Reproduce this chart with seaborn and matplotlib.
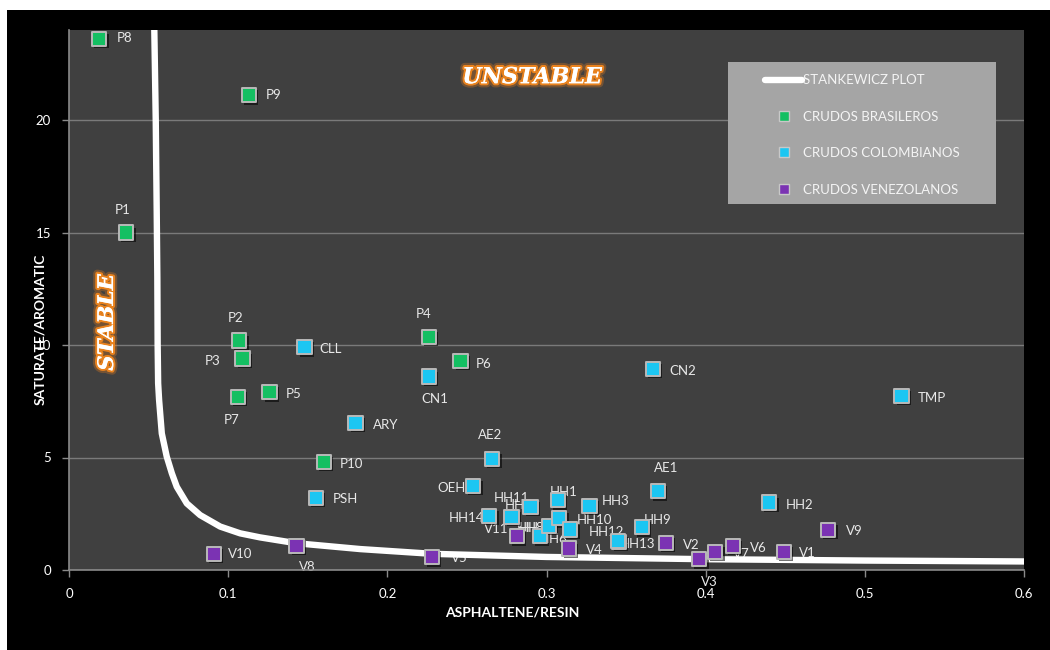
import matplotlib
matplotlib.use("Agg")
import matplotlib.pyplot as plt
import matplotlib.patheffects as pe
from matplotlib.lines import Line2D
from matplotlib.patches import Rectangle
import pandas as pd
import seaborn as sns

# ---- Brazilian crudes (asphaltene/resin, saturate/aromatic)
br_names = ["P1", "P2", "P3", "P4", "P5", "P6", "P7", "P8", "P9", "P10"]
br_ar = [0.036, 0.107, 0.109, 0.226, 0.126, 0.246, 0.106, 0.019, 0.113, 0.160]
br_sa = [15.0, 10.2, 9.4, 10.35, 7.9, 9.3, 7.7, 23.6, 21.1, 4.8]

# ---- Colombian crudes
co_names = ["CLL", "ARY", "PSH", "CN1", "CN2", "TMP", "AE2", "AE1", "OEH",
            "HH1", "HH2", "HH3", "HH5", "HH6", "HH7", "HH8", "HH9", "HH10",
            "HH11", "HH12", "HH13", "HH14"]
co_ar = [0.148, 0.180, 0.155, 0.226, 0.367, 0.523, 0.266, 0.370, 0.254,
         0.307, 0.440, 0.327, 0.290, 0.296, 0.3015, 0.308, 0.360, 0.315,
         0.278, 0.3455, 0.345, 0.264]
co_sa = [9.9, 6.55, 3.2, 8.6, 8.95, 7.75, 4.95, 3.5, 3.75,
         3.1, 3.0, 2.85, 2.8, 1.5, 1.95, 2.3, 1.9, 1.8,
         2.35, 1.25, 1.3, 2.4]

# ---- Venezuelan crudes
ve_names = ["V1", "V2", "V3", "V4", "V5", "V6", "V7", "V8", "V9", "V10", "V11"]
ve_ar = [0.449, 0.375, 0.396, 0.314, 0.228, 0.417, 0.406, 0.143, 0.477, 0.091, 0.2815]
ve_sa = [0.81, 1.21, 0.48, 0.96, 0.57, 1.07, 0.81, 1.08, 1.78, 0.71, 1.5]

# ---- Stankewicz stability boundary
stank_ar = [0.0536, 0.0545, 0.0551, 0.0555, 0.0557, 0.0560, 0.0566, 0.0583,
            0.0614, 0.0646, 0.0677, 0.074, 0.0824, 0.095, 0.1075, 0.120,
            0.1428, 0.183, 0.228, 0.30, 0.40, 0.50, 0.60]
stank_sa = [24.0, 20.0, 16.0, 13.0, 10.0, 8.3, 7.56, 6.07,
            5.04, 4.3, 3.7, 2.96, 2.44, 1.93, 1.63, 1.45,
            1.19, 0.93, 0.72, 0.58, 0.48, 0.42, 0.38]

x_ticks = [0, 0.1, 0.2, 0.3, 0.4, 0.5, 0.6]
x_tick_labels = ["0", "0.1", "0.2", "0.3", "0.4", "0.5", "0.6"]
y_ticks = [0, 5, 10, 15, 20]

group_br = "CRUDOS BRASILEROS"
group_co = "CRUDOS COLOMBIANOS"
group_ve = "CRUDOS VENEZOLANOS"
curve_label = "STANKEWICZ PLOT"

palette = {group_br: "#14bf62", group_co: "#1cc6f2", group_ve: "#7b33b3"}

# label offsets (points) relative to each marker
label_offsets = {
    "P1": (-3, 16.5), "P2": (-3, 16.5), "P3": (-21.5, -2), "P4": (-4, 16.5),
    "P5": (17.5, -1), "P6": (16.5, -2), "P7": (-4.5, -17), "P8": (18, 1),
    "P9": (18, 0), "P10": (20, -1.5),
    "CLL": (18.5, -1.5), "ARY": (21.5, -2), "PSH": (21.5, -1), "CN1": (4.5, -16.5),
    "CN2": (21.5, -2), "TMP": (22, -1.5), "AE2": (-2, 17), "AE1": (6, 16.5),
    "OEH": (-16, -2), "HH1": (4.5, 6), "HH2": (22, -2), "HH3": (18.5, 3.5),
    "HH5": (-8.5, 1.5), "HH6": (10, -2), "HH7": (-12, -1), "HH8": (-21, -7),
    "HH9": (11, 5), "HH10": (17, 6.5), "HH11": (0, 14), "HH12": (-9, 7),
    "HH13": (14, -2), "HH14": (-16, -1.5),
    "V1": (17, -1), "V2": (18.5, -1.5), "V3": (7, -16.5), "V4": (18.5, -1.5),
    "V5": (19.5, -0.5), "V6": (18.5, -1.5), "V7": (18.5, -1.5), "V8": (8, -15),
    "V9": (18.5, -1), "V10": (19, 0), "V11": (-15, 5.5),
}

df = pd.DataFrame({
    "name": br_names + co_names + ve_names,
    "ar": br_ar + co_ar + ve_ar,
    "sa": br_sa + co_sa + ve_sa,
    "group": [group_br] * len(br_names) + [group_co] * len(co_names) + [group_ve] * len(ve_names),
})
curve = pd.DataFrame({"ar": stank_ar, "sa": stank_sa})

sns.set_style("dark")
plt.rcParams["font.family"] = ["Lato", "DejaVu Sans"]

fig = plt.figure(figsize=(10.5, 6.5), dpi=100)
fig.patch.set_facecolor("black")
# thin white margin on the top and left of the chart frame
fig.patches.append(Rectangle((0, 0), 7 / 1050, 1, transform=fig.transFigure,
                             facecolor="white", edgecolor="none", zorder=0))
fig.patches.append(Rectangle((0, 1 - 10 / 650), 1, 10 / 650, transform=fig.transFigure,
                             facecolor="white", edgecolor="none", zorder=0))

ax = fig.add_axes([69 / 1050, 1 - 570 / 650, (1024 - 69) / 1050, 540 / 650])
ax.set_facecolor("#404040")

# stability boundary
sns.lineplot(data=curve, x="ar", y="sa", sort=False, estimator=None, ax=ax,
             color="white", lw=4.6, zorder=3, legend=False)

# crude oil samples
shadow = [pe.SimplePatchShadow(offset=(1.6, -1.6), shadow_rgbFace="black", alpha=0.55), pe.Normal()]
sns.scatterplot(data=df, x="ar", y="sa", hue="group", palette=palette, marker="s",
                s=105, edgecolor="#b9b9b9", linewidth=1.4, ax=ax, legend=False, zorder=4)
for coll in ax.collections:
    coll.set_path_effects(shadow)

for name, xv, yv in zip(df["name"], df["ar"], df["sa"]):
    dx, dy = label_offsets[name]
    ax.annotate(name, (xv, yv), xytext=(dx, dy), textcoords="offset points",
                ha="center", va="center", fontsize=9.5, color="#e8e8e8", zorder=2)

# region captions
glow = [pe.withStroke(linewidth=6, foreground=(0.95, 0.5, 0.1, 0.3)),
        pe.withStroke(linewidth=3, foreground="#e8821e"), pe.Normal()]
ax.text(0.291, 21.9, "UNSTABLE", family="DejaVu Serif", fontsize=16, fontweight="bold",
        fontstyle="italic", color="white", ha="center", va="center", path_effects=glow, zorder=5)
ax.text(0.0239, 11.0, "STABLE", family="DejaVu Serif", fontsize=15.5, fontweight="bold",
        fontstyle="italic", color="white", ha="center", va="center", rotation=90,
        path_effects=glow, zorder=5)

# axes, ticks, grid
ax.set_xlim(0, 0.6)
ax.set_ylim(0, 24)
ax.set_xticks(x_ticks)
ax.set_xticklabels(x_tick_labels)
ax.set_yticks(y_ticks)
ax.grid(False)
ax.yaxis.grid(True, color="#7a7a7a", lw=1.0)
ax.set_axisbelow(True)
ax.tick_params(axis="both", colors="#8a8a8a", labelcolor="white", labelsize=9.5,
               length=5, width=1, direction="out", bottom=True, left=True)
ax.tick_params(axis="x", pad=8)
ax.tick_params(axis="y", pad=8)
for side in ["top", "right"]:
    ax.spines[side].set_visible(False)
for side in ["left", "bottom"]:
    ax.spines[side].set_visible(True)
    ax.spines[side].set_color("#8a8a8a")
    ax.spines[side].set_linewidth(1.2)

ax.set_xlabel("ASPHALTENE/RESIN", fontsize=10, fontweight="bold", color="white")
ax.set_ylabel("SATURATE/AROMATIC", fontsize=10, fontweight="bold", color="white")
ax.xaxis.set_label_coords(0.4646, -0.079)
ax.xaxis.label.set_va("center")
ax.yaxis.set_label_coords(-0.0304, 0.445)
ax.yaxis.label.set_va("center")

# legend panel
ax.add_patch(Rectangle((0.690, 0.678), 0.281, 0.263, transform=ax.transAxes,
                       facecolor="#a5a5a5", edgecolor="none", zorder=6))
handles = [
    Line2D([0], [0], color="white", lw=4.6, label=curve_label),
    Line2D([0], [0], marker="s", ls="none", markersize=7, markerfacecolor=palette[group_br],
           markeredgecolor="#c8c8c8", label=group_br),
    Line2D([0], [0], marker="s", ls="none", markersize=7, markerfacecolor=palette[group_co],
           markeredgecolor="#c8c8c8", label=group_co),
    Line2D([0], [0], marker="s", ls="none", markersize=7, markerfacecolor=palette[group_ve],
           markeredgecolor="#c8c8c8", label=group_ve),
]
leg = ax.legend(handles=handles, loc="upper left", bbox_to_anchor=(0.729, 0.918),
                frameon=False, fontsize=9.5, labelcolor="#f4f4f4", handlelength=2.8,
                handletextpad=0.05, labelspacing=1.85, borderpad=0, borderaxespad=0)
leg.set_zorder(7)

fig.savefig("out.png", dpi=100, facecolor=fig.get_facecolor())
